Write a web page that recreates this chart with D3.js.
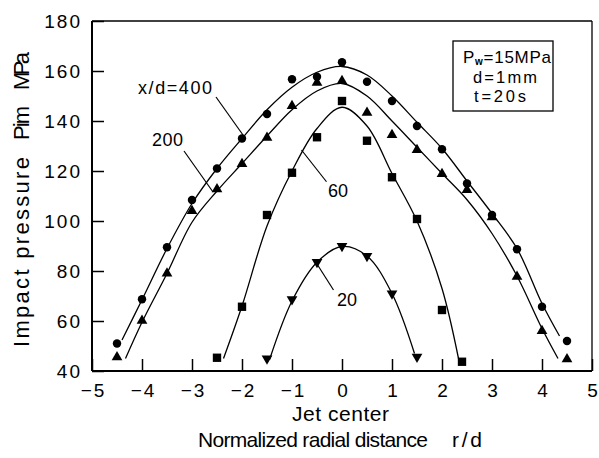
<!DOCTYPE html>
<html>
<head>
<meta charset="utf-8">
<script src="https://cdn.jsdelivr.net/npm/d3@7"></script>
<style>
  html, body { margin: 0; padding: 0; background: #fff; }
  svg { display: block; }
  text { font-family: "Liberation Sans", Arial, Helvetica, sans-serif; fill: #000; }
</style>
</head>
<body>
<svg id="chart" width="599" height="458"></svg>
<script>
// ---------- data ----------
const xTicks = [-5, -4, -3, -2, -1, 0, 1, 2, 3, 4, 5];
const yTicks = [40, 60, 80, 100, 120, 140, 160, 180];

// measured points
const rd400 = [-4.5, -4, -3.5, -3, -2.5, -2, -1.5, -1, -0.5, 0, 0.5, 1, 1.5, 2, 2.5, 3, 3.5, 4, 4.5];
const p400  = [51, 68.7, 89.5, 108.4, 121, 133, 142.8, 156.7, 157.7, 163.5, 155.7, 148, 138, 128.7, 115, 102.4, 88.7, 65.7, 52];
const rd200 = [-4.5, -4, -3.5, -3, -2.5, -2, -1.5, -1, -0.5, 0, 0.5, 1, 1.5, 2, 2.5, 3, 3.5, 4, 4.5];
const p200  = [45.5, 60.1, 79, 104, 112.7, 122.8, 133.3, 146, 155.3, 156, 143.3, 134.4, 128.4, 118.8, 112.4, 101.5, 77.7, 56, 44.7];
const rd60  = [-2.5, -2, -1.5, -1, -0.5, 0, 0.5, 1, 1.5, 2, 2.4];
const p60   = [45.3, 65.7, 102.4, 119.3, 133.5, 148, 132.1, 117.5, 100.8, 64.4, 43.7];
const rd20  = [-1.5, -1, -0.5, 0, 0.5, 1, 1.5];
const p20   = [45, 68.7, 83.6, 90, 86, 71, 45.7];

// fitted curves
const fit400X = [-4.4, -4, -3.5, -3, -2.5, -2, -1.5, -1, -0.5, 0, 0.5, 1, 1.5, 2, 2.5, 3, 3.5, 4, 4.35];
const fit400Y = [52.4, 68.5, 89, 107, 121, 133, 144.5, 153.5, 159.5, 161.8, 158.4, 150, 139.5, 129, 116, 103, 89, 67, 54];
const fit200X = [-4.33, -4, -3.5, -3, -2.5, -2, -1.5, -1, -0.5, 0, 0.5, 1, 1.5, 2, 2.5, 3, 3.5, 4, 4.32];
const fit200Y = [45, 59.5, 79, 99.5, 112, 123, 134, 144.5, 152, 155, 150, 140, 129.5, 119, 108.5, 95, 78, 57, 45];
const fit60X  = [-2.37, -2, -1.5, -1, -0.5, 0, 0.5, 1, 1.5, 2, 2.33];
const fit60Y  = [45, 66, 98, 120, 137, 145.5, 138, 119, 100, 73, 45];
const fit20X  = [-1.45, -1, -0.5, 0, 0.5, 1, 1.45];
const fit20Y  = [44.5, 68, 83.5, 89.8, 86, 71, 47];

const seriesLabels = ["x/d=400", "200", "60", "20"];
const infoLines = ["=15MPa", "d=1mm", "t=20s"];

// ---------- layout ----------
const svg = d3.select("#chart");
const L = 92, R = 592, T = 21, B = 371;
const x = d3.scaleLinear().domain([-5, 5]).range([L, R]);
const y = d3.scaleLinear().domain([40, 180]).range([B, T]);

// axes
const xAxis = svg.append("g").attr("transform", `translate(0,${B})`)
  .call(d3.axisBottom(x).tickValues(xTicks).tickSizeInner(-12).tickSizeOuter(0).tickPadding(13));
const yAxis = svg.append("g").attr("transform", `translate(${L},0)`)
  .call(d3.axisLeft(y).tickValues(yTicks).tickSizeInner(-12).tickSizeOuter(0).tickPadding(10));
[xAxis, yAxis].forEach(g => {
  g.select(".domain").remove();
  g.selectAll(".tick line").attr("stroke", "#000").attr("stroke-width", 1.5);
  g.selectAll(".tick text")
    .style("font-family", '"Liberation Sans", Arial, sans-serif')
    .style("font-size", "19px").style("letter-spacing", "2px").attr("fill", "#000");
});
xAxis.selectAll(".tick text").attr("dx", "1px");

// frame
svg.append("line").attr("x1", L).attr("x2", L).attr("y1", T).attr("y2", B).attr("stroke", "#000").attr("stroke-width", 2);
svg.append("line").attr("x1", L).attr("x2", R).attr("y1", B).attr("y2", B).attr("stroke", "#000").attr("stroke-width", 2);
svg.append("line").attr("x1", L).attr("x2", R).attr("y1", T).attr("y2", T).attr("stroke", "#000").attr("stroke-width", 1.3);
svg.append("line").attr("x1", R).attr("x2", R).attr("y1", T).attr("y2", B).attr("stroke", "#000").attr("stroke-width", 1.3);

// curves
const line = d3.line().x(d => x(d[0])).y(d => y(d[1])).curve(d3.curveCatmullRom.alpha(0.5));
[[fit400X, fit400Y], [fit200X, fit200Y], [fit60X, fit60Y], [fit20X, fit20Y]].forEach(([xs, ys]) => {
  svg.append("path").datum(xs.map((v, i) => [v, ys[i]]))
    .attr("d", line).attr("fill", "none").attr("stroke", "#000").attr("stroke-width", 1.3);
});

// markers
function marks(xs, ys, type, size, rot) {
  svg.append("g").selectAll("path").data(xs.map((v, i) => [v, ys[i]])).join("path")
    .attr("d", d3.symbol().type(type).size(size))
    .attr("transform", d => `translate(${x(d[0])},${y(d[1])}) rotate(${rot})`)
    .attr("fill", "#000");
}
marks(rd400, p400, d3.symbolCircle, 56, 0);
marks(rd200, p200, d3.symbolTriangle, 50, 0);
marks(rd60, p60, d3.symbolSquare, 70, 0);
marks(rd20, p20, d3.symbolTriangle, 50, 180);

// annotations: [label, textX, textY, leader x1,y1,x2,y2, width] in data units
const ann = [
  [seriesLabels[0], -4.08, 150.8, -2.52, 149.6, -1.98, 134.4, 74],
  [seriesLabels[1], -3.8, 130, -3.16, 128, -2.58, 111.6, 31],
  [seriesLabels[2], -0.28, 109.6, -0.81, 128.4, -0.31, 115.7, 20],
  [seriesLabels[3], -0.1, 66, -0.51, 83.1, -0.17, 72.4, 20]
];
ann.forEach(a => {
  svg.append("text").attr("x", x(a[1])).attr("y", y(a[2])).text(a[0])
    .style("font-size", "18px").attr("textLength", a[7]).attr("lengthAdjust", "spacing");
  svg.append("line").attr("x1", x(a[3])).attr("y1", y(a[4])).attr("x2", x(a[5])).attr("y2", y(a[6]))
    .attr("stroke", "#000").attr("stroke-width", 1.2);
});

// info box
svg.append("rect").attr("x", 453).attr("y", 41).attr("width", 100).attr("height", 70)
  .attr("fill", "none").attr("stroke", "#000").attr("stroke-width", 1.3);
const t1 = svg.append("text").attr("x", 463).attr("y", 63).style("font-size", "17px")
  .attr("textLength", 88).attr("lengthAdjust", "spacing");
t1.append("tspan").text("P");
t1.append("tspan").text("w").style("font-size", "10px").style("font-weight", "bold").attr("dy", 2);
t1.append("tspan").text(infoLines[0]).attr("dy", -2);
svg.append("text").attr("x", 473).attr("y", 83).style("font-size", "16.5px").text(infoLines[1])
  .attr("textLength", 64).attr("lengthAdjust", "spacing");
svg.append("text").attr("x", 474).attr("y", 102).style("font-size", "16.5px").text(infoLines[2])
  .attr("textLength", 52).attr("lengthAdjust", "spacing");

// axis titles
svg.append("text").attr("x", 292).attr("y", 421).style("font-size", "21px").text("Jet center")
  .attr("textLength", 97).attr("lengthAdjust", "spacing");
svg.append("text").attr("x", 198).attr("y", 447).style("font-size", "21px").text("Normalized radial distance")
  .attr("textLength", 230).attr("lengthAdjust", "spacing");
svg.append("text").attr("x", 452).attr("y", 447).style("font-size", "21px").text("r/d")
  .attr("textLength", 30).attr("lengthAdjust", "spacing");

const yt = [["Impact pressure", 347, 190], ["Pim", 140, 34], ["MPa", 90, 38]];
yt.forEach(d => {
  svg.append("text").attr("transform", `translate(29,${d[1]}) rotate(-90)`)
    .style("font-size", "22px").text(d[0]).attr("textLength", d[2]).attr("lengthAdjust", "spacing");
});
</script>
</body>
</html>
